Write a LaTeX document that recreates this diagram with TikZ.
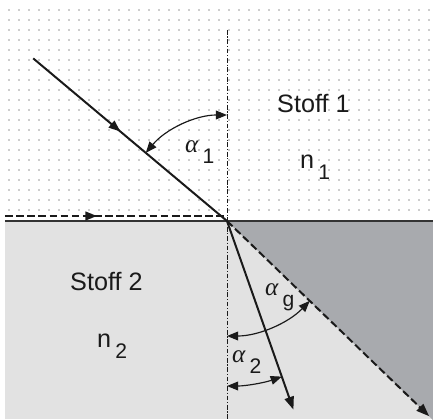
\documentclass[tikz,border=0pt]{standalone}
\usepackage{fontspec}
\setmainfont{Liberation Sans}
\newfontfamily\greekfont{Liberation Serif}
\usetikzlibrary{arrows.meta,decorations.markings}
\definecolor{stoffgray}{HTML}{E2E2E2}
\definecolor{shadegray}{HTML}{A8AAAE}
\definecolor{dotgray}{HTML}{9A9A9A}
\definecolor{inkgray}{HTML}{1A1A1A}
\newcommand{\idx}[1]{\,\raisebox{-0.45em}{\fontsize{18}{18}\selectfont #1}}
\newcommand{\alphasym}{{\greekfont\itshape α}}

\begin{document}
\begin{tikzpicture}[x=0.03cm, y=0.03cm,
    ray/.style={inkgray, line width=1.7pt},
    tip/.style={-{Triangle[length=11pt,width=8pt]}},
    angarc/.style={inkgray, line width=1pt, {Triangle[length=9.5pt,width=7.5pt]}-{Triangle[length=9.5pt,width=7.5pt]}},
    midarrow/.style={postaction={decorate}, decoration={markings, mark=at position #1 with {\arrow{Triangle[length=10pt,width=7.5pt]}}}},
    txt/.style={anchor=base west, inner sep=0, text=inkgray, font=\fontsize{21.5}{24}\selectfont}]
    \useasboundingbox (-227,-198) rectangle (206,221);
    \fill[stoffgray] (-222,0) rectangle (206,-198);

    \coordinate (O) at (0,0);
    \coordinate (inc) at (140:253);
    \coordinate (graze) at (-222,5);
    \coordinate (grazeend) at (-3,5);
    \coordinate (refr) at (-70.6:200);
    \coordinate (crit) at (-44:281);
    \coordinate (axtop) at (0,191);
    \coordinate (axbot) at (0,-198);

    \fill[shadegray] (O) -- (206,0) -- (206,-199) -- cycle;
    \foreach \i in {0,...,42}
        \foreach \j in {0,...,20}
            \fill[dotgray] (-218+10*\i, 11+10*\j) circle (0.9);

    \draw[inkgray, line width=0.8pt, dash pattern=on 4pt off 1.5pt on 1pt off 1.5pt] (axtop) -- (axbot);
    \draw[black!80, line width=2.2pt] (-222,0) -- (206,0);

    \draw[ray, dash pattern=on 6.5pt off 3pt, midarrow=0.42] (graze) -- (grazeend);
    \draw[ray, midarrow=0.45] (inc) -- (O);
    \draw[ray, tip] (O) -- (refr);
    \draw[ray, tip, dash pattern=on 6.5pt off 3pt] (O) -- (crit);

    \draw[angarc] (140:106) arc[start angle=140, end angle=90, radius=106];
    \draw[angarc] (-90:115) arc[start angle=-90, end angle=-44, radius=115];
    \draw[angarc] (-90:165) arc[start angle=-90, end angle=-70.6, radius=165];

    \node[txt] (stoff1) at (50,109) {Stoff 1};
    \node[txt] (n1) at (73,53) {n\idx{1}};
    \node[txt] (stoff2) at (-157,-69) {Stoff 2};
    \node[txt] (n2) at (-130,-126) {n\idx{2}};
    \node[txt] (a1) at (-42,69) {\alphasym\idx{1}};
    \node[txt] (ag) at (38,-74) {\alphasym\idx{g}};
    \node[txt] (a2) at (5,-141) {\alphasym\idx{2}};
\end{tikzpicture}
\end{document}
